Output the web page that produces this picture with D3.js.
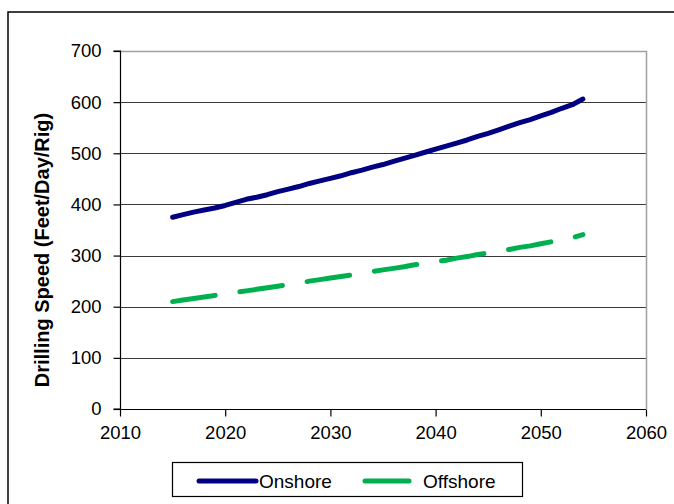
<!DOCTYPE html>
<html>
<head>
<meta charset="utf-8">
<script src="https://cdn.jsdelivr.net/npm/d3@7"></script>
<style>
  html, body { margin: 0; padding: 0; background: #fff; }
  svg { display: block; font-family: "Liberation Sans", Arial, sans-serif; }
</style>
</head>
<body>
<svg id="chart" width="674" height="504"></svg>
<script>
const years = d3.range(2015, 2055);
const onshore = [375, 380, 385, 389, 393, 398, 404, 410, 414, 419,
                 425, 430, 435, 441, 446, 451, 456, 462, 467, 473,
                 478, 484, 490, 496, 502, 508, 514, 520, 526, 533,
                 539, 546, 553, 560, 566, 573, 580, 588, 595, 606];
const offshore = [210, 213, 216, 219, 222, 225, 228, 231, 234, 237,
                  240, 243, 246, 250, 253, 256, 259, 262, 265, 269,
                  272, 275, 278, 282, 285, 288, 291, 295, 298, 302,
                  305, 309, 312, 316, 319, 323, 327, 331, 335, 341];
const xTicks = [2010, 2020, 2030, 2040, 2050, 2060];
const yTicks = [0, 100, 200, 300, 400, 500, 600, 700];
const seriesNames = ["Onshore", "Offshore"];
const seriesColors = ["#000080", "#00B050"];
const yTitle = "Drilling Speed (Feet/Day/Rig)";

const svg = d3.select("#chart");
const L = 120, R = 646, T = 51, B = 409;

const x = d3.scaleLinear().domain([2010, 2060]).range([L, R]);
const y = d3.scaleLinear().domain([0, 700]).range([B, T]);

// outer frame
svg.append("rect").attr("x", 8).attr("y", 12).attr("width", 700).attr("height", 600)
  .attr("fill", "none").attr("stroke", "#000").attr("stroke-width", 1.5);

// gridlines
svg.append("g").selectAll("line").data(yTicks.filter(d => d > 0 && d < 700)).join("line")
  .attr("x1", L).attr("x2", R)
  .attr("y1", d => Math.round(y(d)) + 0.5).attr("y2", d => Math.round(y(d)) + 0.5)
  .attr("stroke", "#3a3a3a").attr("stroke-width", 1);

// plot border top/right (gray)
svg.append("path")
  .attr("d", `M${L},${Math.round(T)+0.5}H${R+0.5}V${B}`)
  .attr("fill", "none").attr("stroke", "#a0a0a0").attr("stroke-width", 1.5);

// axes
const yAxis = d3.axisLeft(y).tickValues(yTicks).tickSize(7).tickPadding(12).tickFormat(d3.format("d"));
const gy = svg.append("g").attr("transform", `translate(${L + 0.5},0)`).call(yAxis);
const xAxis = d3.axisBottom(x).tickValues(xTicks).tickSize(7).tickPadding(9).tickFormat(d3.format("d"));
const gx = svg.append("g").attr("transform", `translate(0,${B + 0.5})`).call(xAxis);
[gx, gy].forEach(g => {
  g.select(".domain").attr("stroke", "#000").attr("stroke-width", 1.2);
  g.selectAll(".tick line").attr("stroke", "#000").attr("stroke-width", 1.2);
  g.selectAll("text").attr("fill", "#000").style("font-size", "18.5px")
    .style("font-family", "'Liberation Sans', Arial, sans-serif");
});
gy.select(".domain").attr("d", `M-7,${B}H0V${T}H-7`);
gx.select(".domain").attr("d", `M${L},0H${R}`);

// y title
svg.append("text")
  .attr("transform", `translate(49,250) rotate(-90)`)
  .attr("text-anchor", "middle")
  .style("font-size", "20px").style("font-weight", "bold")
  .attr("fill", "#000")
  .text(yTitle);

// lines
const line = d3.line().x((d, i) => x(years[i])).y(d => y(d));
svg.append("path").datum(onshore).attr("d", line)
  .attr("fill", "none").attr("stroke", seriesColors[0]).attr("stroke-width", 5)
  .attr("stroke-linecap", "round").attr("stroke-linejoin", "round");
svg.append("path").datum(offshore).attr("d", line)
  .attr("fill", "none").attr("stroke", seriesColors[1]).attr("stroke-width", 5)
  .attr("stroke-linecap", "round").attr("stroke-linejoin", "round")
  .attr("stroke-dasharray", "43 25");

// legend
const lg = svg.append("g");
lg.append("rect").attr("x", 172.5).attr("y", 462.5).attr("width", 350).attr("height", 34)
  .attr("fill", "#fff").attr("stroke", "#000").attr("stroke-width", 1.2);
const legendItems = [
  {name: seriesNames[0], color: seriesColors[0], x1: 199, x2: 256, tx: 259},
  {name: seriesNames[1], color: seriesColors[1], x1: 365, x2: 409, tx: 423}
];
legendItems.forEach(it => {
  lg.append("line").attr("x1", it.x1).attr("x2", it.x2).attr("y1", 481).attr("y2", 481)
    .attr("stroke", it.color).attr("stroke-width", 5).attr("stroke-linecap", "round");
  lg.append("text").attr("x", it.tx).attr("y", 481).attr("dy", "0.35em")
    .style("font-size", "19px").attr("fill", "#000").text(it.name);
});
</script>
</body>
</html>
